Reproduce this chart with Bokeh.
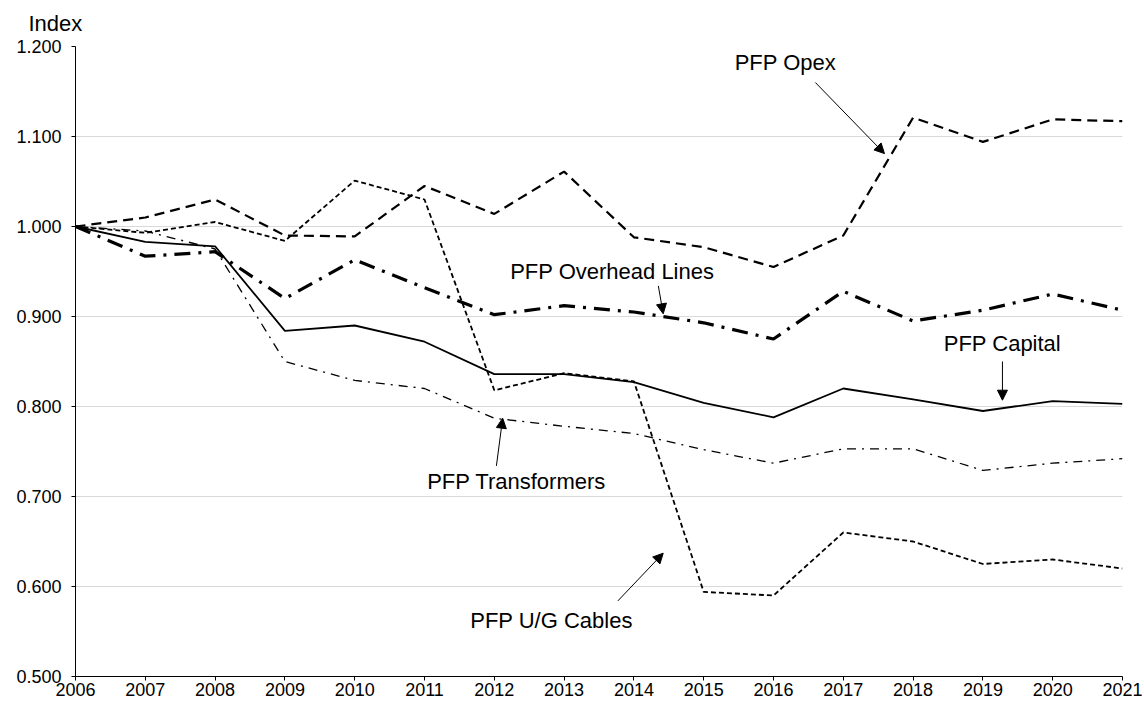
from bokeh.plotting import figure
from bokeh.models import Label, Arrow, NormalHead, FixedTicker, PrintfTickFormatter, Range1d
from bokeh.embed import file_html
from bokeh.resources import INLINE

years = list(range(2006, 2022))
opex = [1.000, 1.010, 1.030, 0.990, 0.989, 1.045, 1.014, 1.061, 0.988, 0.977, 0.955, 0.990, 1.121, 1.094, 1.119, 1.117]
ug_cables = [1.000, 0.993, 1.005, 0.984, 1.051, 1.030, 0.818, 0.837, 0.828, 0.594, 0.590, 0.660, 0.650, 0.625, 0.630, 0.620]
overhead = [1.000, 0.967, 0.972, 0.920, 0.963, 0.932, 0.902, 0.912, 0.905, 0.893, 0.875, 0.928, 0.895, 0.907, 0.925, 0.907]
capital = [1.000, 0.983, 0.978, 0.884, 0.890, 0.872, 0.836, 0.836, 0.827, 0.804, 0.788, 0.820, 0.808, 0.795, 0.806, 0.803]
transformers = [1.000, 0.995, 0.975, 0.850, 0.829, 0.820, 0.787, 0.778, 0.770, 0.752, 0.737, 0.753, 0.753, 0.729, 0.737, 0.742]
y_ticks = [0.5, 0.6, 0.7, 0.8, 0.9, 1.0, 1.1, 1.2]

FONT = "Liberation Sans"

p = figure(frame_width=1047, frame_height=630, output_backend="svg", toolbar_location=None,
           x_range=Range1d(2006, 2021), y_range=Range1d(0.5, 1.2),
           min_border_left=75, min_border_top=46, min_border_right=20, min_border_bottom=20)
p.outline_line_color = None
p.xgrid.grid_line_color = None
p.ygrid.grid_line_color = "#d9d9d9"
p.ygrid.grid_line_width = 1

p.title.text = "Index"
p.title.align = "left"
p.title.offset = -47
p.title.standoff = 18
p.title.vertical_align = "top"
p.title.text_font = FONT
p.title.text_font_size = "22px"
p.title.text_font_style = "normal"
p.title.text_color = "black"

p.yaxis.ticker = FixedTicker(ticks=y_ticks)
p.yaxis.formatter = PrintfTickFormatter(format="%.3f")
p.xaxis.ticker = FixedTicker(ticks=years)
for ax in (p.xaxis, p.yaxis):
    ax.axis_line_color = "black"
    ax.axis_line_width = 1
    ax.major_tick_line_color = "black"
    ax.major_tick_in = 0
    ax.major_tick_out = 4
    ax.minor_tick_line_color = None
    ax.major_label_text_font = FONT
    ax.major_label_text_font_size = "18px"
    ax.major_label_text_color = "black"
p.yaxis.major_label_standoff = 10
p.xaxis.major_label_standoff = 2

p.line(years, opex, line_color="black", line_width=2.2, line_dash="10 6")
p.line(years, ug_cables, line_color="black", line_width=1.8, line_dash="5 3")
p.line(years, overhead, line_color="black", line_width=3.2, line_dash="16 8 3 8")
p.line(years, capital, line_color="black", line_width=1.8)
p.line(years, transformers, line_color="black", line_width=1.3, line_dash="9 6 2 6")

labels = [
    ("PFP Opex", 2016.17, 1.182),
    ("PFP Overhead Lines", 2013.69, 0.950),
    ("PFP Capital", 2019.28, 0.870),
    ("PFP Transformers", 2012.32, 0.717),
    ("PFP U/G Cables", 2012.82, 0.562),
]
for t, x, y in labels:
    p.add_layout(Label(x=x, y=y, text=t, text_font=FONT, text_font_size="22px", text_color="black",
                       text_align="center", text_baseline="middle"))

arrows = [
    (2016.60, 1.160, 2017.59, 1.081),
    (2014.35, 0.934, 2014.42, 0.903),
    (2019.28, 0.850, 2019.28, 0.807),
    (2012.03, 0.734, 2012.12, 0.787),
    (2013.77, 0.584, 2014.42, 0.637),
]
for x0, y0, x1, y1 in arrows:
    p.add_layout(Arrow(x_start=x0, y_start=y0, x_end=x1, y_end=y1, line_color="black", line_width=1,
                       end=NormalHead(size=10, fill_color="black", line_color="black")))

open("out.html", "w").write(file_html(p, INLINE))
